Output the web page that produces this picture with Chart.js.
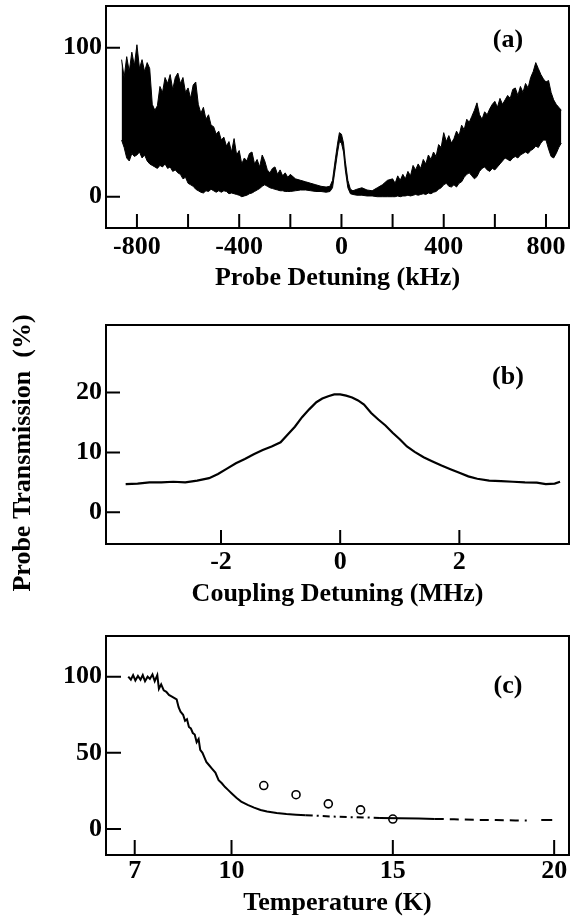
<!DOCTYPE html>
<html>
<head>
<meta charset="utf-8">
<script src="https://cdn.jsdelivr.net/npm/chart.js@4.4.1/dist/chart.umd.min.js"></script>
<style>
  body { margin: 0; background: #fff; }
  #wrap { position: relative; width: 570px; height: 922px; }
  canvas { position: absolute; left: 0; }
</style>
</head>
<body>
<div id="wrap">
  <canvas id="chart-a" width="570" height="300" style="top:0"></canvas>
  <canvas id="chart-b" width="570" height="310" style="top:300px"></canvas>
  <canvas id="chart-c" width="570" height="312" style="top:610px"></canvas>
</div>
<script>
// (a) probe detuning scan: noisy band, upper and lower edge
const probeKHz = [
  -860,-850,-840,-830,-820,-810,-800,-790,-780,-770,-760,-750,-740,-730,-720,-710,-700,-690,-680,-670,
  -660,-650,-640,-630,-620,-610,-600,-590,-580,-570,-560,-550,-540,-530,-520,-510,-500,-490,-480,-470,
  -460,-450,-440,-430,-420,-410,-400,-390,-380,-370,-360,-350,-340,-330,-320,-310,-300,-290,-280,-270,
  -260,-250,-240,-230,-220,-210,-200,
  -180,-160,-140,-120,-100,-80,-60,
  -45,-35,-25,-15,-8,0,8,15,25,35,45,
  60,80,100,120,140,160,180,
  200,210,220,230,240,250,260,270,280,290,300,310,320,330,340,350,360,370,380,390,
  400,410,420,430,440,450,460,470,480,490,500,510,520,530,540,550,560,570,580,590,
  600,610,620,630,640,650,660,670,680,690,700,710,720,730,740,750,760,770,780,790,
  800,810,820,830,840,850,860];
const probeUpper = [
  92,80,94,84,97,88,102,86,92,84,90,86,62,58,61,74,70,80,76,82,
  72,80,83,76,80,70,73,66,75,77,62,56,60,52,55,48,47,42,44,38,
  40,34,37,30,39,28,31,22,26,24,29,30,22,25,20,28,24,18,16,19,
  20,15,18,14,16,13,15,
  12,11,10,9,8,7,6.5,
  7,11,24,36,43,42,36,24,11,5,4,
  5,6,4.5,4,6,8,11,
  12,9,14,11,15,12,17,14,21,18,22,19,25,22,28,25,30,27,35,33,
  43,37,41,36,39,44,41,48,45,52,50,54,58,63,55,52,57,55,59,62,
  64,60,66,62,65,68,66,72,73,68,74,70,76,73,80,84,90,86,82,79,
  77,78,70,65,62,60,58];
const probeLower = [
  38,33,26,24,29,27,28,30,26,28,24,22,21,20,19,21,20,22,19,20,
  17,18,16,15,12,13,9,8,7,5,4,3,2.5,4,3.5,5,4,3,4,3,
  4,3.5,2,2.5,2,1.5,1,0,0.5,1,2,2.5,3.5,4.5,5.5,7,8,7,6,5.5,
  5,4.5,4,4,3.5,3.5,3.5,
  4,4.5,4.5,4,3.5,3.5,3,
  3.5,6,18,30,37,36,30,18,6,2,1.5,
  1,1,0.5,0.5,0,0,0,
  0,0,0.5,0,0.5,0.5,1,0.5,1,1.5,1,1.5,2,1.5,2.5,2,3,3.5,5,6,
  8,9,7,6.5,8,6.5,9,10,13,15,16,14,12,13.5,17,19,20,18,17,19,
  18,20,22,24,26,25,24,26,27,26,28,29,30,29,31,32,34,33,36,38,
  38,32,27,26,29,33,36];
const probeTicks = [-800,-600,-400,-200,0,200,400,600,800];

// (b) coupling detuning scan
const couplingMHz = [-3.6,-3.4,-3.2,-3.0,-2.8,-2.6,-2.4,-2.2,-2.05,-1.9,-1.75,-1.6,-1.45,-1.3,-1.15,-1.0,
  -0.88,-0.76,-0.64,-0.52,-0.4,-0.3,-0.2,-0.1,0,0.1,0.2,0.3,0.4,0.52,0.64,0.76,0.88,1.0,
  1.12,1.25,1.4,1.55,1.7,1.85,2.0,2.15,2.3,2.5,2.7,2.9,3.1,3.3,3.45,3.6,3.69];
const couplingTrans = [4.7,4.8,5.0,5.0,5.1,5.0,5.3,5.7,6.4,7.3,8.2,8.9,9.7,10.4,11.0,11.7,
  13.0,14.3,15.9,17.2,18.4,19.0,19.4,19.7,19.7,19.5,19.2,18.7,18.0,16.6,15.5,14.5,13.3,12.2,
  11.0,10.1,9.2,8.5,7.8,7.2,6.6,6.0,5.6,5.3,5.2,5.1,5.0,4.95,4.7,4.8,5.1];
const couplingTicks = [-2,0,2];

// (c) temperature dependence
const tempK = [6.8,6.88,6.95,7.02,7.1,7.18,7.25,7.32,7.4,7.47,7.55,7.62,7.7,
  7.75,7.82,7.9,7.98,8.06,8.14,8.22,8.3,
  8.36,8.42,8.5,8.56,8.62,8.68,8.74,8.8,8.86,8.92,8.98,
  9.03,9.1,9.16,9.22,9.3,9.4,9.5,9.6,9.7,9.8,9.9,10.0,
  10.15,10.3,10.5,10.7,10.9,11.1,11.4,11.7,12.0,
  12.3,12.7,13.1,13.6,14.1,14.6,15.2,15.8,16.3,
  16.9,17.5,18.2,18.8,19.15,19.6,19.94];
const tempTrans = [100,98,101,97.5,100.5,98,101,97,100,98.5,101.5,97,101,
  92,95,91,90,88,87,86,85,
  80,77,75,71,72,67,66,63,62,57,59,
  52,50,47,44,42,39.5,37,32,30,27.5,25.5,23.5,
  20.5,18,15.8,14,12.5,11.5,10.5,9.8,9.4,
  9.0,8.6,8.2,7.8,7.6,7.2,7.0,6.8,6.6,
  6.3,6.0,5.8,5.6,5.5,5.9,5.9];
const circleK = [11,12,13,14,15];
const circleTrans = [28.5,22.5,16.5,12.5,6.5];
const tempTicks = [7,10,15,20];

const serif = {family: "'Liberation Serif', 'Times New Roman', serif", size: 26, weight: 'bold', lineHeight: 1.2};
Chart.defaults.color = '#000';
Chart.defaults.font = serif;

const pts = (xs, ys) => xs.map((x, i) => ({x: x, y: ys[i]}));

// frame, inward ticks, panel letter, shared side title
const panelDeco = {
  id: 'panelDeco',
  afterDatasetsDraw(chart, args, opts) {
    const {ctx, chartArea: a, scales: {x, y}} = chart;
    ctx.save();
    ctx.strokeStyle = '#000';
    ctx.lineWidth = 2;
    ctx.strokeRect(a.left, a.top, a.right - a.left, a.bottom - a.top);
    ctx.beginPath();
    x.ticks.forEach(t => {
      const px = x.getPixelForValue(t.value);
      ctx.moveTo(px, a.bottom);
      ctx.lineTo(px, a.bottom - opts.tickLen);
    });
    y.ticks.forEach(t => {
      const py = y.getPixelForValue(t.value);
      ctx.moveTo(a.left, py);
      ctx.lineTo(a.left + opts.tickLen, py);
    });
    ctx.stroke();
    ctx.font = "bold 26px 'Liberation Serif', serif";
    ctx.fillStyle = '#000';
    ctx.textAlign = 'center';
    ctx.textBaseline = 'middle';
    ctx.fillText(opts.label, a.right - 61, a.top + opts.labelDy);
    if (opts.sideTitle) {
      ctx.translate(opts.sideX, opts.sideY);
      ctx.rotate(-Math.PI / 2);
      ctx.fillText(opts.sideTitle, 0, 0);
    }
    ctx.restore();
  }
};

function makeScales(o) {
  return {
    x: {
      type: 'linear', min: o.xmin, max: o.xmax,
      grid: {display: false, drawTicks: false}, border: {display: false},
      afterBuildTicks: s => { s.ticks = o.xticks.map(v => ({value: v})); },
      afterFit: s => { s.height = o.xh; s.paddingLeft = 0; s.paddingRight = 0; },
      ticks: {autoSkip: false, maxRotation: 0, padding: o.tpad, font: serif,
        callback: o.xlabel || (v => v)},
      title: {display: true, text: o.xtitle, font: serif, padding: {top: 0, bottom: o.titlePad}}
    },
    y: {
      type: 'linear', min: o.ymin, max: o.ymax,
      grid: {display: false, drawTicks: false}, border: {display: false},
      afterBuildTicks: s => { s.ticks = o.yticks.map(v => ({value: v})); },
      afterFit: s => { s.width = 106; s.paddingTop = 0; s.paddingBottom = 0; },
      ticks: {padding: 4, font: serif}
    }
  };
}

const base = {
  responsive: false,
  animation: false,
  devicePixelRatio: 1,
  events: [],
  elements: {point: {radius: 0}, line: {tension: 0}}
};

new Chart(document.getElementById('chart-a'), {
  type: 'line',
  data: {
    datasets: [
      {data: pts(probeKHz, probeLower), borderColor: '#000', borderWidth: 1, fill: false},
      {data: pts(probeKHz, probeUpper), borderColor: '#000', borderWidth: 1, backgroundColor: '#000', fill: '-1'}
    ]
  },
  options: Object.assign({}, base, {
    layout: {autoPadding: false, padding: {top: 6, right: 1, left: 0, bottom: 0}},
    scales: makeScales({xmin: -921, xmax: 890, ymin: -21, ymax: 128,
      xticks: probeTicks, yticks: [0, 100], xh: 72, tpad: 4, titlePad: 6,
      xtitle: 'Probe Detuning (kHz)',
      xlabel: v => (v % 400 === 0 ? v : '')}),
    plugins: {legend: {display: false}, tooltip: {enabled: false},
      panelDeco: {label: '(a)', labelDy: 34, tickLen: 14}}
  }),
  plugins: [panelDeco]
});

new Chart(document.getElementById('chart-b'), {
  type: 'line',
  data: {
    datasets: [
      {data: pts(couplingMHz, couplingTrans), borderColor: '#000', borderWidth: 2.2, fill: false}
    ]
  },
  options: Object.assign({}, base, {
    layout: {autoPadding: false, padding: {top: 25, right: 1, left: 0, bottom: 0}},
    scales: makeScales({xmin: -3.93, xmax: 3.84, ymin: -5.3, ymax: 31.3,
      xticks: couplingTicks, yticks: [0, 10, 20], xh: 66, tpad: 3, titlePad: 0,
      xtitle: 'Coupling Detuning (MHz)'}),
    plugins: {legend: {display: false}, tooltip: {enabled: false},
      panelDeco: {label: '(b)', labelDy: 52, tickLen: 14,
        sideTitle: 'Probe Transmission  (%)', sideX: 23, sideY: 153}}
  }),
  plugins: [panelDeco]
});

new Chart(document.getElementById('chart-c'), {
  type: 'line',
  data: {
    datasets: [
      {data: pts(tempK, tempTrans), borderColor: '#000', borderWidth: 2, fill: false,
        segment: {
          borderDash: c => {
            const x0 = c.p0.parsed.x;
            if (x0 >= 16.3 && x0 < 19.15) return [9, 6];
            if (x0 >= 12.3 && x0 < 14.6) return [7, 4, 2, 4];
            return undefined;
          },
          borderColor: c => (c.p0.parsed.x >= 19.15 && c.p1.parsed.x <= 19.6 ? 'rgba(0,0,0,0)' : undefined)
        }},
      {data: pts(circleK, circleTrans), showLine: false, pointRadius: 4, pointBorderWidth: 1.6,
        pointBorderColor: '#000', pointBackgroundColor: 'rgba(0,0,0,0)'}
    ]
  },
  options: Object.assign({}, base, {
    layout: {autoPadding: false, padding: {top: 26, right: 1, left: 0, bottom: 0}},
    scales: makeScales({xmin: 6.11, xmax: 20.46, ymin: -17.1, ymax: 126.7,
      xticks: tempTicks, yticks: [0, 50, 100], xh: 67, tpad: 1, titlePad: 3,
      xtitle: 'Temperature (K)'}),
    plugins: {legend: {display: false}, tooltip: {enabled: false},
      panelDeco: {label: '(c)', labelDy: 50, tickLen: 15}}
  }),
  plugins: [panelDeco]
});
</script>
</body>
</html>
